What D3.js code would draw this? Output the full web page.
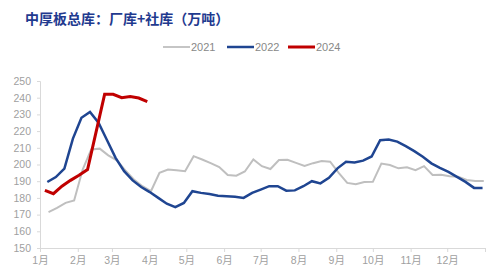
<!DOCTYPE html>
<html>
<head>
  <meta charset="utf-8">
  <title>中厚板总库</title>
  <script src="https://d3js.org/d3.v7.min.js"></script>
  <style>
    body { margin: 0; background: #fff; }
    text { font-family: "Liberation Sans", "Noto Sans CJK SC", sans-serif; }
  </style>
</head>
<body>
<script>

  // month tick labels and y ticks
  var months = ["1月","2月","3月","4月","5月","6月","7月","8月","9月","10月","11月","12月"];
  var yTicks = [150,160,170,180,190,200,210,220,230,240,250];

  // weekly data (fridays)
  var start2021 = "2021-01-08";
  var values2021 = [171.5,174,177,178.5,197,209,209.5,205.5,202.5,196.5,191,187,184,
                    195,197,196.5,196,205,203,200.8,198.5,193.7,193.3,195.8,203,199,
                    197.3,202.7,202.8,201,199.2,200.8,202.1,201.7,195,189,188.2,189.5,
                    189.6,200.6,199.7,197.7,198.3,196.6,199,193.7,193.8,193,192.7,190.7,190.1,190.1];

  var start2022 = "2022-01-07";
  var values2022 = [189.5,192.5,197.5,215.5,228,231.5,225,214.5,204,196,190.5,186.5,183.5,
                    180,176.5,174.5,177,184,183,182.3,181.3,181,180.7,180,183,185,
                    187,187,184.3,184.5,187,190,188.7,192,197.7,201.6,201.2,202.3,
                    204.8,214.5,215,213.7,211,208,204.6,200.7,198,195.6,192.6,189.6,186,186];

  // 2024 has a gap around the spring festival
  var dates2024 = ["2024-01-05","2024-01-12","2024-01-19","2024-01-26","2024-02-02","2024-02-09",
                   "2024-02-23","2024-03-01","2024-03-08","2024-03-15","2024-03-22","2024-03-29"];
  var values2024 = [184.5,182.5,187,190.5,193.5,197,242,242,240,240.7,239.8,237.7];

  var width = 500, height = 280;
  var plotLeft = 40, plotRight = 485, plotTop = 81, plotBottom = 248;

  var parse = d3.timeParse("%Y-%m-%d");

  // day of year, so every year sits on the same axis
  function doy(date) {
    return d3.timeDay.count(d3.timeYear(date), date);
  }

  function weekly(startStr, values) {
    var s = parse(startStr);
    return values.map(function(v, i) {
      return { day: doy(d3.timeDay.offset(s, 7 * i)), value: v };
    });
  }

  var data2021 = weekly(start2021, values2021);
  var data2022 = weekly(start2022, values2022);
  var data2024 = dates2024.map(function(d, i) {
    return { day: doy(parse(d)), value: values2024[i] };
  });

  var x = d3.scaleLinear().domain([0, 365]).range([plotLeft, plotRight]);
  var y = d3.scaleLinear().domain([150, 250]).range([plotBottom, plotTop]);

  var svg = d3.select("body").append("svg")
      .attr("width", width)
      .attr("height", height);

  svg.append("rect").attr("width", width).attr("height", height).attr("fill", "#fff");

  // title
  svg.append("text")
      .attr("x", 25)
      .attr("y", 24)
      .style("font-family", "'Noto Sans CJK SC', sans-serif")
      .style("font-size", "14px")
      .style("font-weight", 700)
      .style("fill", "#1f3a8f")
      .text("中厚板总库：厂库+社库（万吨）");

  // legend
  var legend = [
    { name: "2021", color: "#bfbfbf", w: 1.8, x: 163 },
    { name: "2022", color: "#1f4591", w: 2.5, x: 227 },
    { name: "2024", color: "#c00000", w: 3, x: 288 }
  ];
  var lg = svg.selectAll(".legend").data(legend).enter().append("g")
      .attr("class", "legend")
      .attr("transform", function(d) { return "translate(" + d.x + ",47)"; });
  lg.append("line")
      .attr("x1", 0).attr("x2", 27)
      .attr("stroke", function(d) { return d.color; })
      .attr("stroke-width", function(d) { return d.w; });
  lg.append("text")
      .attr("x", 28)
      .attr("dy", "0.35em")
      .style("font-size", "11px")
      .style("fill", "#888")
      .text(function(d) { return d.name; });

  // y axis
  var yAxis = d3.axisLeft(y).tickValues(yTicks).tickSize(3).tickPadding(6);
  var gy = svg.append("g").attr("transform", "translate(" + plotLeft + ",0)").call(yAxis);
  gy.select(".domain").attr("stroke", "#d9d9d9");
  gy.selectAll(".tick line").attr("stroke", "#d9d9d9");
  gy.selectAll(".tick text")
      .style("font-size", "10.5px")
      .style("font-family", "'Liberation Sans', sans-serif")
      .attr("fill", "#a0a0a0");

  // x axis: month starts
  var monthStarts = d3.timeMonths(new Date(2022, 0, 1), new Date(2023, 0, 1)).map(doy);
  var xAxis = d3.axisBottom(x).tickValues(monthStarts.concat([365]))
      .tickSize(4).tickPadding(5)
      .tickFormat(function(d, i) { return months[i] || ""; });
  var gx = svg.append("g").attr("transform", "translate(0," + plotBottom + ")").call(xAxis);
  gx.select(".domain").attr("stroke", "#d9d9d9");
  gx.selectAll(".tick line").attr("stroke", "#d9d9d9");
  gx.selectAll(".tick text")
      .style("font-size", "10.5px")
      .style("font-family", "'Liberation Sans', 'Noto Sans CJK SC', sans-serif")
      .attr("fill", "#a0a0a0");

  var line = d3.line()
      .x(function(d) { return x(d.day); })
      .y(function(d) { return y(d.value); });

  svg.append("path").datum(data2021)
      .attr("d", line)
      .attr("fill", "none")
      .attr("stroke", "#bfbfbf")
      .attr("stroke-width", 2);

  svg.append("path").datum(data2022)
      .attr("d", line)
      .attr("fill", "none")
      .attr("stroke", "#1f4591")
      .attr("stroke-width", 2.5);

  svg.append("path").datum(data2024)
      .attr("d", line)
      .attr("fill", "none")
      .attr("stroke", "#c00000")
      .attr("stroke-width", 3);

</script>
</body>
</html>
